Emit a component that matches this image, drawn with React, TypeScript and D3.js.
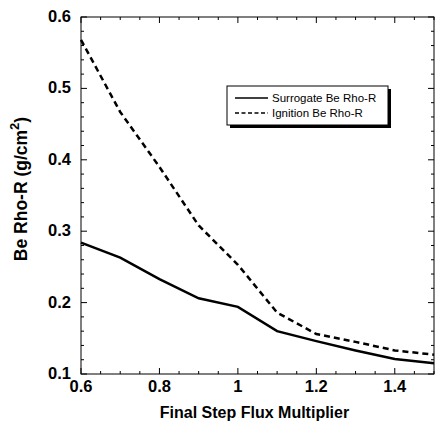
import React, { useEffect, useRef } from "react";
import * as d3 from "d3";

const flux = [0.6, 0.7, 0.8, 0.9, 1.0, 1.1, 1.2, 1.3, 1.4, 1.5];
const surrogate = [0.284, 0.263, 0.233, 0.206, 0.194, 0.16, 0.146, 0.133, 0.121, 0.115];
const ignition = [0.568, 0.467, 0.39, 0.308, 0.253, 0.186, 0.156, 0.145, 0.133, 0.127];
const xTicks = [0.6, 0.8, 1, 1.2, 1.4];
const yTicks = [0.1, 0.2, 0.3, 0.4, 0.5, 0.6];
const legendLabels = ["Surrogate Be Rho-R", "Ignition Be Rho-R"];

const App = () => {
  const svgRef = useRef<SVGSVGElement>(null);

  useEffect(() => {
    const svg = d3.select(svgRef.current);
    svg.selectAll("*").remove();
    const margin = { top: 17, right: 1, bottom: 54, left: 81 };
    const W = 435, H = 428;

    const x = d3.scaleLinear().domain([0.6, 1.5]).range([margin.left, W - margin.right]);
    const y = d3.scaleLinear().domain([0.1, 0.6]).range([H - margin.bottom, margin.top]);

    const font = "'Liberation Sans', Arial, sans-serif";

    // frame
    svg.append("rect")
      .attr("x", x(0.6)).attr("y", y(0.6))
      .attr("width", x(1.5) - x(0.6)).attr("height", y(0.1) - y(0.6))
      .attr("fill", "none").attr("stroke", "#000").attr("stroke-width", 1);

    const xMinor = d3.range(0.6, 1.5001, 0.05);
    const yMinor = d3.range(0.1, 0.6001, 0.02);
    const g = svg.append("g").attr("stroke", "#000").attr("stroke-width", 1);

    xMinor.forEach((v) => {
      const major = xTicks.some((t) => Math.abs(t - v) < 1e-6);
      const len = major ? 6 : 3;
      g.append("line").attr("x1", x(v)).attr("x2", x(v)).attr("y1", y(0.1)).attr("y2", y(0.1) - len);
      g.append("line").attr("x1", x(v)).attr("x2", x(v)).attr("y1", y(0.6)).attr("y2", y(0.6) + len);
    });
    yMinor.forEach((v) => {
      const major = yTicks.some((t) => Math.abs(t - v) < 1e-6);
      const len = major ? 6 : 3;
      g.append("line").attr("y1", y(v)).attr("y2", y(v)).attr("x1", x(0.6)).attr("x2", x(0.6) + len);
      g.append("line").attr("y1", y(v)).attr("y2", y(v)).attr("x1", x(1.5)).attr("x2", x(1.5) - len);
    });

    svg.append("g").selectAll("text").data(xTicks).enter().append("text")
      .attr("x", (d) => x(d)).attr("y", y(0.1) + 18)
      .attr("text-anchor", "middle")
      .attr("font-family", font).attr("font-weight", "bold").attr("font-size", 16.5)
      .text((d) => String(d));

    svg.append("g").selectAll("text").data(yTicks).enter().append("text")
      .attr("x", x(0.6) - 10).attr("y", (d) => y(d) + 5)
      .attr("text-anchor", "end")
      .attr("font-family", font).attr("font-weight", "bold").attr("font-size", 16.5)
      .text((d) => d.toFixed(1));

    svg.append("text")
      .attr("x", (x(0.6) + x(1.5)) / 2 - 3).attr("y", H - 10)
      .attr("text-anchor", "middle")
      .attr("font-family", font).attr("font-weight", "bold").attr("font-size", 16)
      .text("Final Step Flux Multiplier");

    const yl = svg.append("text")
      .attr("transform", `translate(27,189) rotate(-90)`)
      .attr("text-anchor", "middle")
      .attr("font-family", font).attr("font-weight", "bold").attr("font-size", 17.5);
    yl.append("tspan").text("Be Rho-R (g/cm");
    yl.append("tspan").attr("font-size", 13).attr("dy", -8).text("2");
    yl.append("tspan").attr("dy", 8).text(")");

    const line = d3.line<number>().x((_, i) => x(flux[i])).y((d) => y(d));

    svg.append("path").datum(surrogate).attr("d", line)
      .attr("fill", "none").attr("stroke", "#000").attr("stroke-width", 2.5);
    svg.append("path").datum(ignition).attr("d", line)
      .attr("fill", "none").attr("stroke", "#000").attr("stroke-width", 2.5)
      .attr("stroke-dasharray", "6,4");

    // legend
    const lx = 227, ly = 86, lw = 161, lh = 39;
    svg.append("rect").attr("x", lx + 3).attr("y", ly + 3).attr("width", lw).attr("height", lh).attr("fill", "#000");
    svg.append("rect").attr("x", lx).attr("y", ly).attr("width", lw).attr("height", lh)
      .attr("fill", "#fff").attr("stroke", "#000").attr("stroke-width", 1);
    legendLabels.forEach((lab, i) => {
      const yy = ly + 12 + i * 15;
      svg.append("line").attr("x1", lx + 8).attr("x2", lx + 41).attr("y1", yy).attr("y2", yy)
        .attr("stroke", "#000").attr("stroke-width", 1.5)
        .attr("stroke-dasharray", i === 1 ? "4,2.5" : null);
      svg.append("text").attr("x", lx + 45).attr("y", yy + 4)
        .attr("font-family", font).attr("font-size", 11.5)
        .text(lab);
    });
  }, []);

  return (
    <svg ref={svgRef} width={435} height={428}
      style={{ position: "absolute", left: 0, top: 0, background: "#fff" }} />
  );
};

export default App;
